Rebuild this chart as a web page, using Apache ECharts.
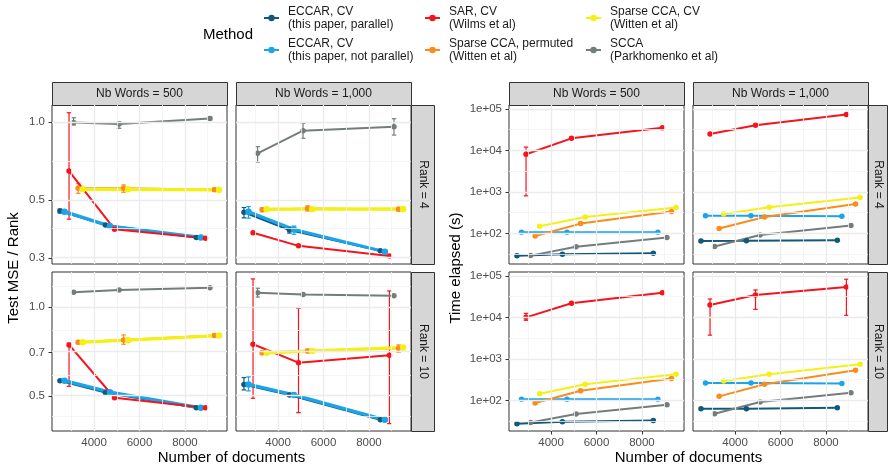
<!DOCTYPE html>
<html>
<head>
<meta charset="utf-8">
<script src="https://cdn.jsdelivr.net/npm/echarts@6/dist/echarts.min.js"></script>
<style>
  html, body { margin: 0; padding: 0; background: #ffffff; }
  #chart { width: 889px; height: 466px; }
</style>
</head>
<body>
<div id="chart"></div>
<script>
// ---- data -----------------------------------------------------------------
// Methods in dodge / drawing order
const methods = [
  'ECCAR, CV\n(this paper, parallel)',
  'ECCAR, CV\n(this paper, not parallel)',
  'SAR, CV\n(Wilms et al)',
  'SCCA\n(Parkhomenko et al)',
  'Sparse CCA, permuted\n(Witten et al)',
  'Sparse CCA, CV\n(Witten et al)'
];
const docCounts = [3000, 5000, 9000];
const dodgeOffsets = [-500, -300, -100, 100, 300, 500];
const wordFacets = ['Nb Words = 500', 'Nb Words = 1,000'];
const rankFacets = ['Rank = 4', 'Rank = 10'];
const docTicks = [4000, 6000, 8000];
const mseTicksRank4 = [0.3, 0.5, 1.0];
const mseTicksRank10 = [0.5, 0.7, 1.0];
const timeTicks = [1e2, 1e3, 1e4, 1e5];

// Test MSE / Rank: one row per method, one value per document count
const mseRank4Words500 = [
  [0.455, 0.402, 0.360], [0.452, 0.398, 0.360], [0.648, 0.387, 0.357],
  [0.995, 0.982, 1.033], [0.556, 0.556, 0.549], [0.551, 0.551, 0.548]
];
const mseRank4Words1000 = [
  [0.450, 0.384, 0.320], [0.452, 0.386, 0.317], [0.375, 0.334, 0.305],
  [0.758, 0.926, 0.959], [0.460, 0.465, 0.462], [0.462, 0.462, 0.463]
];
const mseRank10Words500 = [
  [0.563, 0.513, 0.456], [0.563, 0.515, 0.456], [0.744, 0.493, 0.456],
  [1.121, 1.142, 1.162], [0.760, 0.773, 0.800], [0.760, 0.772, 0.800]
];
const mseRank10Words1000 = [
  [0.547, 0.504, 0.415], [0.547, 0.504, 0.415], [0.748, 0.648, 0.686],
  [1.118, 1.101, 1.092], [0.700, 0.710, 0.725], [0.700, 0.710, 0.729]
];
// Error bar ranges [low, high] (null = none)
const mseErrRank4Words500 = [
  [[0.447, 0.463], null, null], [[0.444, 0.460], null, null], [[0.423, 1.086], null, null],
  [[0.974, 1.039], [0.946, 1.003], [1.020, 1.047]],
  [[0.532, 0.581], [0.537, 0.573], [0.541, 0.557]], [null, null, null]
];
const mseErrRank4Words1000 = [
  [[0.428, 0.469], [0.374, 0.394], null], [[0.427, 0.473], [0.370, 0.398], [0.312, 0.322]],
  [null, null, null], [[0.702, 0.804], [0.866, 0.988], [0.891, 1.030]],
  [[0.452, 0.468], [0.455, 0.476], [0.455, 0.470]], [null, null, null]
];
const mseErrRank10Words500 = [
  [null, null, null], [null, null, null], [[0.539, 0.754], null, null],
  [null, null, null], [[0.750, 0.770], [0.748, 0.804], [0.790, 0.810]], [null, null, null]
];
const mseErrRank10Words1000 = [
  [[0.524, 0.577], null, null], [[0.520, 0.580], null, null],
  [[0.491, 1.244], [0.439, 0.990], [0.403, 1.133]], [[1.080, 1.157], null, null],
  [[0.690, 0.710], [0.700, 0.720], [0.703, 0.744]], [null, null, null]
];

// Time elapsed (s)
const timeRank4Words500 = [
  [28.7, 31.4, 33], [107, 107, 107], [8050, 19500, 35000],
  [29.1, 47.5, 79], [86.4, 172, 337], [149, 248, 418]
];
const timeRank4Words1000 = [
  [65.8, 66, 68], [266, 266, 257], [24700, 40300, 73300],
  [48.5, 91, 155], [131, 248, 512], [292, 427, 736]
];
const timeRank10Words500 = [
  [27.3, 30.5, 32.8], [106, 106, 106], [10000, 21800, 39400],
  [29.4, 46.7, 78.7], [86, 171, 335], [145, 244, 425]
];
const timeRank10Words1000 = [
  [63, 63, 66.5], [262, 262, 254], [19900, 34700, 54200],
  [47.7, 91, 153], [125, 244, 532], [293, 425, 743]
];
const timeErrRank4Words500 = [
  [null, null, null], [null, null, null], [[803, 12000], null, null],
  [null, null, null], [null, null, null], [null, null, null]
];
const timeErrRank4Words1000 = [
  [null, null, null], [null, null, null], [null, null, null],
  [null, null, null], [null, null, null], [null, null, null]
];
const timeErrRank10Words500 = [
  [null, null, null], [null, null, null], [[8500, 12500], null, null],
  [null, null, null], [null, null, null], [null, null, null]
];
const timeErrRank10Words1000 = [
  [null, null, null], [null, null, null],
  [[3730, 27800], [15600, 45800], [11200, 83000]],
  [null, null, null], [null, null, null], [null, null, null]
];

// ---- style & layout --------------------------------------------------------
const methodColors = ['#11587B', '#1BA4E8', '#F7131B', '#747C7C', '#FA8C1C', '#F4F012'];
const FONT = '"Liberation Sans", Arial, Helvetica, sans-serif';
const PANEL_W = 175, PANEL_H = 159;
const panelLefts = [[52, 236], [509, 693]];
const panelTops = [105, 272];
const X_RANGE = [2150, 9850];
const mseRanges = [[0.2844, 1.163], [0.3805, 1.313]];
const timeRange = [18.28, 123900];

const log10 = Math.log10;

const plots = [
  {
    values: [[mseRank4Words500, mseRank4Words1000], [mseRank10Words500, mseRank10Words1000]],
    errors: [[mseErrRank4Words500, mseErrRank4Words1000], [mseErrRank10Words500, mseErrRank10Words1000]],
    ticks: [mseTicksRank4, mseTicksRank10],
    ranges: mseRanges,
    fmt: v => Math.pow(10, v).toFixed(1),
    title: 'Test MSE / Rank',
    thick: [false, true, false, false, false, true]
  },
  {
    values: [[timeRank4Words500, timeRank4Words1000], [timeRank10Words500, timeRank10Words1000]],
    errors: [[timeErrRank4Words500, timeErrRank4Words1000], [timeErrRank10Words500, timeErrRank10Words1000]],
    ticks: [timeTicks, timeTicks],
    ranges: [timeRange, timeRange],
    fmt: v => '1e+' + String(Math.round(v)).padStart(2, '0'),
    title: 'Time elapsed (s)',
    thick: [false, false, false, false, false, false]
  }
];

// minor breaks halfway between majors (extended one step past each end)
function minorBreaks(majors, lo, hi) {
  const b = majors.slice();
  const d = b[1] - b[0];
  if (lo < b[0]) b.unshift(b[0] - d);
  if (hi > b[b.length - 1]) b.push(b[b.length - 1] + d);
  const out = [];
  for (let i = 0; i < b.length - 1; i++) {
    const m = (b[i] + b[i + 1]) / 2;
    if (m > lo && m < hi) out.push(m);
  }
  return out;
}

const grids = [], xAxes = [], yAxes = [], series = [], graphics = [];
const majorLine = { color: '#EBEBEB', width: 1.3, type: 'solid' };
const minorLine = { color: '#F3F3F3', width: 0.8, type: 'solid' };
const textColor = '#1A1A1A';
const tickColor = '#333333';

function errorBarRender(params, api) {
  const x = api.value(0);
  const p1 = api.coord([x, api.value(1)]);
  const p2 = api.coord([x, api.value(2)]);
  const hw = 2.3;
  const style = { stroke: api.visual('color'), lineWidth: 1.2 };
  return {
    type: 'group',
    children: [
      { type: 'line', shape: { x1: p1[0], y1: p1[1], x2: p2[0], y2: p2[1] }, style },
      { type: 'line', shape: { x1: p1[0] - hw, y1: p1[1], x2: p1[0] + hw, y2: p1[1] }, style },
      { type: 'line', shape: { x1: p2[0] - hw, y1: p2[1], x2: p2[0] + hw, y2: p2[1] }, style }
    ]
  };
}

plots.forEach((plot, p) => {
  for (let r = 0; r < 2; r++) {
    for (let c = 0; c < 2; c++) {
      const g = grids.length;
      const left = panelLefts[p][c];
      const top = panelTops[r];
      grids.push({
        left, top, width: PANEL_W, height: PANEL_H,
        show: true, backgroundColor: '#ffffff',
        borderColor: '#333333', borderWidth: 1
      });
      const yLo = log10(plot.ranges[r][0]);
      const yHi = log10(plot.ranges[r][1]);
      const yMajors = plot.ticks[r].map(log10);
      const showX = r === 1;
      const showY = c === 0;
      xAxes.push({
        type: 'value', gridIndex: g, min: X_RANGE[0], max: X_RANGE[1],
        axisLine: { show: false }, splitLine: { show: false },
        axisTick: { show: showX, customValues: docTicks, length: 3.5, lineStyle: { color: tickColor, width: 1 } },
        axisLabel: {
          show: showX, customValues: docTicks, color: '#4D4D4D', fontSize: 11.5, fontFamily: FONT, margin: 6,
          formatter: v => String(Math.round(v))
        }
      });
      yAxes.push({
        type: 'value', gridIndex: g, min: yLo, max: yHi,
        axisLine: { show: false }, splitLine: { show: false },
        axisTick: { show: showY, customValues: yMajors, length: 3.5, lineStyle: { color: tickColor, width: 1 } },
        axisLabel: { show: showY, customValues: yMajors, color: '#4D4D4D', fontSize: 11.5, fontFamily: FONT, margin: 7, formatter: plot.fmt }
      });

      // panel grid lines
      const xMinors = minorBreaks(docTicks, X_RANGE[0], X_RANGE[1]);
      const yMinors = minorBreaks(yMajors, yLo, yHi);
      series.push({
        type: 'line', xAxisIndex: g, yAxisIndex: g, data: [], silent: true, z: 1,
        markLine: {
          silent: true, symbol: ['none', 'none'], label: { show: false }, animation: false,
          lineStyle: { type: 'solid' },
          emphasis: { disabled: true },
          data: [
            ...xMinors.map(v => ({ xAxis: v, lineStyle: minorLine })),
            ...yMinors.map(v => ({ yAxis: v, lineStyle: minorLine })),
            ...docTicks.map(v => ({ xAxis: v, lineStyle: majorLine })),
            ...yMajors.map(v => ({ yAxis: v, lineStyle: majorLine }))
          ]
        }
      });

      const vals = plot.values[r][c];
      const errs = plot.errors[r][c];
      methods.forEach((name, m) => {
        const thick = plot.thick[m];
        series.push({
          type: 'line', name, xAxisIndex: g, yAxisIndex: g,
          data: vals[m].map((v, i) => [docCounts[i] + dodgeOffsets[m], log10(v)]),
          color: methodColors[m],
          symbol: 'circle', symbolSize: thick ? 6.5 : 5.5, showSymbol: true,
          lineStyle: { width: thick ? 3.3 : 2, color: methodColors[m] },
          itemStyle: { color: methodColors[m], borderColor: methodColors[m], borderWidth: 0 },
          emphasis: { disabled: true },
          silent: true, animation: false, z: 2
        });
        const errData = [];
        errs[m].forEach((e, i) => {
          if (e) errData.push([docCounts[i] + dodgeOffsets[m], log10(e[0]), log10(e[1])]);
        });
        if (errData.length) {
          series.push({
            type: 'custom', name, xAxisIndex: g, yAxisIndex: g,
            data: errData, encode: { x: 0, y: [1, 2] },
            itemStyle: { color: methodColors[m] },
            renderItem: errorBarRender, silent: true, animation: false, z: 2
          });
        }
      });

      // facet strips
      if (r === 0) {
        graphics.push({
          type: 'rect', silent: true,
          shape: { x: left + 0.5, y: 82.5, width: PANEL_W, height: top - 82 },
          style: { fill: '#D6D6D6', stroke: '#333333', lineWidth: 1 }
        });
        graphics.push({
          type: 'text', silent: true, x: left + PANEL_W / 2, y: 94,
          style: { text: wordFacets[c], align: 'center', verticalAlign: 'middle', fontSize: 12, fontFamily: FONT, fill: textColor }
        });
      }
      if (c === 1) {
        const sx = left + PANEL_W;
        const sw = p === 0 ? 23 : 19;
        graphics.push({
          type: 'rect', silent: true,
          shape: { x: sx + 0.5, y: top + 0.5, width: sw, height: PANEL_H },
          style: { fill: '#D6D6D6', stroke: '#333333', lineWidth: 1 }
        });
        graphics.push({
          type: 'text', silent: true, x: sx + sw / 2 + 0.5, y: top + PANEL_H / 2,
          rotation: -Math.PI / 2,
          style: { text: rankFacets[r], align: 'center', verticalAlign: 'middle', fontSize: 12, fontFamily: FONT, fill: textColor }
        });
      }
    }
  }
  // axis titles
  const x0 = panelLefts[p][0], x1 = panelLefts[p][1] + PANEL_W;
  graphics.push({
    type: 'text', silent: true, x: (x0 + x1) / 2, y: 458,
    style: { text: 'Number of documents', align: 'center', verticalAlign: 'middle', fontSize: 15, fontFamily: FONT, fill: '#000000' }
  });
  graphics.push({
    type: 'text', silent: true, x: p === 0 ? 14 : 456, y: 268, rotation: Math.PI / 2,
    style: { text: plot.title, align: 'center', verticalAlign: 'middle', fontSize: 15, fontFamily: FONT, fill: '#000000' }
  });
});

graphics.push({
  type: 'text', silent: true, x: 203, y: 35,
  style: { text: 'Method', align: 'left', verticalAlign: 'middle', fontSize: 15, fontFamily: FONT, fill: '#000000' }
});

// legend keys, filled column-wise in two rows
const legendOrder = [0, 1, 2, 4, 5, 3];
const legendCols = [263, 424, 585];
const legendRows = [5.5, 37.5];
const legends = legendOrder.map((m, k) => ({
  show: true, selectedMode: false, padding: 0, itemGap: 0,
  left: legendCols[Math.floor(k / 2)], top: legendRows[k % 2],
  itemWidth: 15, itemHeight: 8,
  data: [methods[m]],
  lineStyle: { width: 2 },
  itemStyle: { borderWidth: 0 },
  textStyle: { fontSize: 12, lineHeight: 12.5, fontFamily: FONT, color: textColor, padding: [0, 0, 0, 4] }
}));

const chart = echarts.init(document.getElementById('chart'), null, { renderer: 'canvas' });
chart.setOption({
  animation: false,
  backgroundColor: '#ffffff',
  textStyle: { fontFamily: FONT },
  legend: legends,
  grid: grids,
  xAxis: xAxes,
  yAxis: yAxes,
  series,
  graphic: graphics
});
</script>
</body>
</html>
